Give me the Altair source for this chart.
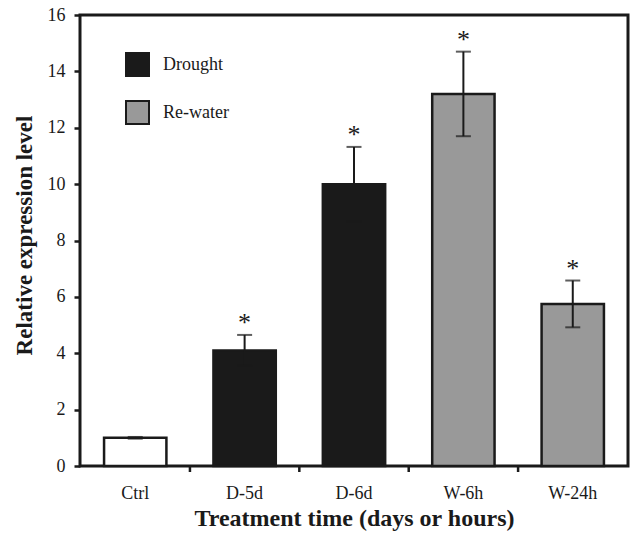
import altair as alt
import pandas as pd

# ---- data ----
categories = ["Ctrl", "D-5d", "D-6d", "W-6h", "W-24h"]
groups = ["Control", "Drought", "Drought", "Re-water", "Re-water"]
values = [1.0, 4.1, 10.0, 13.2, 5.75]
errors = [0.03, 0.55, 1.32, 1.5, 0.83]
marks = ["", "*", "*", "*", "*"]
y_ticks = [0, 2, 4, 6, 8, 10, 12, 14, 16]
legend_groups = ["Drought", "Re-water"]

df = pd.DataFrame({"cat": categories, "group": groups, "value": values, "err": errors, "sig": marks})
df["lo"] = df["value"] - df["err"]
df["hi"] = df["value"] + df["err"]
sig_df = df[df["sig"] != ""]
tick_df = pd.DataFrame({"cat": categories[1:]})

FONT = "Liberation Serif"
INK = "#1a1a1a"
W, H = 548, 451

x_scale = alt.Scale(domain=categories, paddingInner=0.43, paddingOuter=0.22)
y_scale = alt.Scale(domain=[0, 16], nice=False)

x_axis = alt.Axis(title="Treatment time (days or hours)", labelAngle=0, ticks=False, domain=False,
                  labelPadding=18, labelFontSize=18, titleFontSize=24, titlePadding=4,
                  labelFont=FONT, titleFont=FONT, labelColor=INK, titleColor=INK, titleFontWeight="bold")
y_axis = alt.Axis(values=y_ticks, title="Relative expression level", domain=False, tickSize=6,
                  tickWidth=2.5, tickColor=INK, labelPadding=9, labelFontSize=18,
                  titleFontSize=23, titlePadding=11, titleY=220, grid=False,
                  labelFont=FONT, titleFont=FONT, labelColor=INK, titleColor=INK, titleFontWeight="bold")

base = alt.Chart(df)

bars = base.mark_bar(stroke=INK, strokeWidth=2.5).encode(
    x=alt.X("cat:N", scale=x_scale, sort=categories, axis=x_axis),
    y=alt.Y("value:Q", scale=y_scale, axis=y_axis),
    fill=alt.Fill("group:N",
                  scale=alt.Scale(domain=["Control", "Drought", "Re-water"], range=["white", INK, "#999999"]),
                  legend=alt.Legend(values=legend_groups, orient="none", legendX=45, legendY=37, title=None,
                                    symbolType="square", symbolSize=529, symbolStrokeColor=INK,
                                    symbolStrokeWidth=2, labelFont=FONT, labelFontSize=18, labelColor=INK,
                                    rowPadding=17, labelOffset=13, padding=0)),
)

err_rule = base.mark_rule(color=INK, strokeWidth=2).encode(
    x=alt.X("cat:N", scale=x_scale, sort=categories),
    y=alt.Y("lo:Q", scale=y_scale),
    y2="hi:Q",
)

caps_hi = base.mark_tick(color=INK, thickness=2, size=15).encode(
    x=alt.X("cat:N", scale=x_scale, sort=categories),
    y=alt.Y("hi:Q", scale=y_scale),
)
caps_lo = base.mark_tick(color=INK, thickness=2, size=15).encode(
    x=alt.X("cat:N", scale=x_scale, sort=categories),
    y=alt.Y("lo:Q", scale=y_scale),
)

stars = alt.Chart(sig_df).mark_text(font=FONT, fontSize=26, color=INK, baseline="alphabetic", dy=-4).encode(
    x=alt.X("cat:N", scale=x_scale, sort=categories),
    y=alt.Y("hi:Q", scale=y_scale),
    text="sig:N",
)

xticks = alt.Chart(tick_df).mark_rule(color=INK, strokeWidth=2.5).encode(
    x=alt.X("cat:N", scale=x_scale, sort=categories, bandPosition=0),
    xOffset=alt.value(-23.5),
    y=alt.value(H),
    y2=alt.value(H + 6),
)

chart = alt.layer(bars, err_rule, caps_hi, caps_lo, stars, xticks).properties(
    width=W, height=H,
    background="white",
    autosize=alt.AutoSizeParams(type="none"),
    padding={"left": 80, "top": 15, "right": 6, "bottom": 68},
).configure_view(stroke=INK, strokeWidth=3)

chart.save("out.html", embed_options={"renderer": "svg", "actions": False})
